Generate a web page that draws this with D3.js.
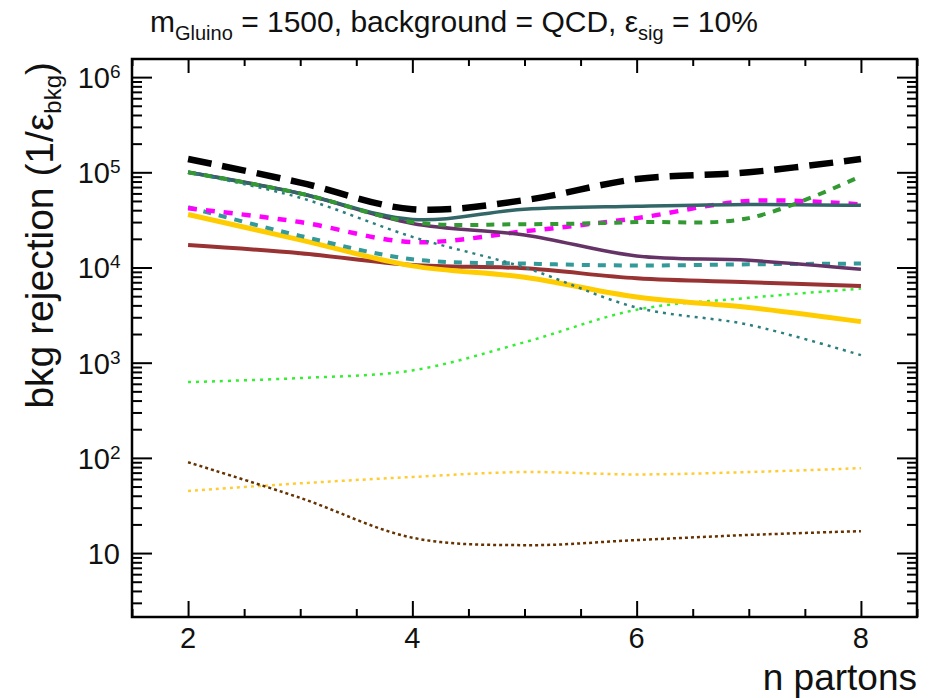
<!DOCTYPE html>
<html>
<head>
<meta charset="utf-8">
<script src="https://cdn.jsdelivr.net/npm/d3@7"></script>
<style>
  body { margin: 0; background: #fff; }
  text { font-family: "Liberation Sans", Arial, sans-serif; fill: #111; }
</style>
</head>
<body>
<div id="chart"></div>
<script>
// x values (number of partons) and axis ticks
const nPartons = [2, 3, 4, 5, 6, 7, 8];
const xMajorTicks = [2, 4, 6, 8];
const yMajorTicks = [10, 1e2, 1e3, 1e4, 1e5, 1e6];

// background rejection per curve
const blackDash   = [1.38e5, 7.8e4, 4.1e4, 5.1e4, 8.5e4, 1.0e5, 1.38e5];
const tealSolid   = [1.0e5, 6.0e4, 3.2e4, 4.1e4, 4.4e4, 4.6e4, 4.5e4];
const purpleSolid = [1.0e5, 6.0e4, 2.9e4, 2.2e4, 1.32e4, 1.19e4, 9.6e3];
const greenDash   = [1.0e5, 6.0e4, 3.0e4, 2.85e4, 3.0e4, 3.3e4, 9.1e4];
const tealDot     = [1.0e5, 5.4e4, 2.1e4, 1.0e4, 3.8e3, 2.5e3, 1.2e3];
const magentaDash = [4.2e4, 3.0e4, 1.85e4, 2.4e4, 3.3e4, 5.0e4, 4.6e4];
const tealDash    = [4.3e4, 2.15e4, 1.22e4, 1.1e4, 1.05e4, 1.08e4, 1.1e4];
const goldSolid   = [3.6e4, 1.95e4, 1.04e4, 7.9e3, 4.9e3, 3.8e3, 2.7e3];
const redSolid    = [1.72e4, 1.41e4, 1.06e4, 9.8e3, 7.7e3, 7.0e3, 6.4e3];
const limeDot     = [625, 690, 830, 1.64e3, 3.6e3, 4.8e3, 6.0e3];
const amberDot    = [45, 54, 63, 71, 67, 71, 78];
const brownDot    = [90, 38, 14.5, 12.1, 13.7, 15.5, 17];

const curves = [
  { values: amberDot,    color: '#ffcc33', width: 2.5, dash: '3,4' },
  { values: brownDot,    color: '#663300', width: 2.5, dash: '3,3' },
  { values: limeDot,     color: '#33ee33', width: 2.5, dash: '3,5' },
  { values: redSolid,    color: '#993333', width: 4,   dash: null },
  { values: goldSolid,   color: '#ffcc00', width: 5,   dash: null },
  { values: tealDash,    color: '#339999', width: 4,   dash: '8,8' },
  { values: magentaDash, color: '#ff00ff', width: 4.5, dash: '9,9' },
  { values: purpleSolid, color: '#663366', width: 3.5, dash: null },
  { values: tealSolid,   color: '#336666', width: 3.5, dash: null },
  { values: tealDot,     color: '#2d7f7f', width: 2.5, dash: '3,5' },
  { values: greenDash,   color: '#339933', width: 4,   dash: '8,8' },
  { values: blackDash,   color: '#000000', width: 6.5, dash: '24,11' }
];

const W = 936, H = 698;
const margin = { left: 132, right: 917, top: 59, bottom: 617 };

const svg = d3.select('#chart').append('svg')
  .attr('width', W).attr('height', H);

const x = d3.scaleLinear().domain([1.5, 8.5]).range([margin.left, margin.right]);
const y = d3.scaleLog().domain([2.13, 1.55e6]).range([margin.bottom, margin.top]);

// minor ticks
const xMinor = d3.range(1.5, 8.51, 0.5).filter(v => v % 2 !== 0);
const yMinor = [];
[1, 10, 1e2, 1e3, 1e4, 1e5, 1e6].forEach(d => {
  for (let k = 2; k <= 9; k++) {
    const v = d * k;
    if (v > 2.13 && v < 1.55e6) yMinor.push(v);
  }
});

function axisGroup(gen, tr) {
  const g = svg.append('g').attr('transform', tr).call(gen);
  g.select('.domain').remove();
  g.selectAll('line').attr('stroke', '#000').attr('stroke-width', 2);
  g.selectAll('text').remove();
  return g;
}

axisGroup(d3.axisBottom(x).tickValues(xMajorTicks).tickSize(-16), `translate(0,${margin.bottom})`);
axisGroup(d3.axisBottom(x).tickValues(xMinor).tickSize(-8), `translate(0,${margin.bottom})`);
axisGroup(d3.axisTop(x).tickValues(xMajorTicks).tickSize(-14), `translate(0,${margin.top})`);
axisGroup(d3.axisTop(x).tickValues(xMinor).tickSize(-7), `translate(0,${margin.top})`);
axisGroup(d3.axisLeft(y).tickValues(yMajorTicks).tickSize(-20), `translate(${margin.left},0)`);
axisGroup(d3.axisLeft(y).tickValues(yMinor).tickSize(-10), `translate(${margin.left},0)`);
axisGroup(d3.axisRight(y).tickValues(yMajorTicks).tickSize(-20), `translate(${margin.right},0)`);
axisGroup(d3.axisRight(y).tickValues(yMinor).tickSize(-10), `translate(${margin.right},0)`);

// frame
svg.append('rect')
  .attr('x', margin.left).attr('y', margin.top)
  .attr('width', margin.right - margin.left).attr('height', margin.bottom - margin.top)
  .attr('fill', 'none').attr('stroke', '#000').attr('stroke-width', 2.5);

// curves
const line = d3.line()
  .curve(d3.curveCatmullRom.alpha(0.5))
  .x((d, i) => x(nPartons[i]))
  .y(d => y(d));

svg.append('clipPath').attr('id', 'clip')
  .append('rect').attr('x', margin.left).attr('y', margin.top)
  .attr('width', margin.right - margin.left).attr('height', margin.bottom - margin.top);

svg.append('g')
  .attr('clip-path', 'url(#clip)')
  .selectAll('path.curve')
  .data(curves)
  .enter()
  .append('path')
  .attr('class', 'curve')
  .attr('d', d => line(d.values))
  .attr('fill', 'none')
  .attr('stroke', d => d.color)
  .attr('stroke-width', d => d.width)
  .attr('stroke-dasharray', d => d.dash);

// x tick labels
svg.selectAll('text.xlab')
  .data(xMajorTicks)
  .enter()
  .append('text')
  .attr('class', 'xlab')
  .attr('x', d => x(d))
  .attr('y', 648)
  .attr('text-anchor', 'middle')
  .attr('font-size', 29)
  .text(d => d);

// y tick labels (10, 10^2, ...)
yMajorTicks.forEach(v => {
  const e = Math.round(Math.log10(v));
  svg.append('text')
    .attr('x', e === 1 ? 120 : 110)
    .attr('y', y(v) + 11)
    .attr('text-anchor', 'end')
    .attr('font-size', 29)
    .text('10');
  if (e !== 1) {
    svg.append('text')
      .attr('x', 110)
      .attr('y', y(v) + 1)
      .attr('font-size', 19)
      .text(e);
  }
});

// axis titles
svg.append('text')
  .attr('x', margin.right)
  .attr('y', 690)
  .attr('text-anchor', 'end')
  .attr('font-size', 37)
  .text('n partons');

const yt = svg.append('text')
  .attr('transform', 'translate(53,62) rotate(-90)')
  .attr('text-anchor', 'end')
  .attr('font-size', 39);
yt.append('tspan').text('bkg rejection (1/ε');
yt.append('tspan').attr('font-size', 24).attr('dy', 8).text('bkg');
yt.append('tspan').attr('dy', -8).text(')');

// title
const title = svg.append('text')
  .attr('x', 150)
  .attr('y', 32)
  .attr('font-size', 30);
title.append('tspan').text('m');
title.append('tspan').attr('font-size', 20).attr('dy', 8).text('Gluino');
title.append('tspan').attr('dy', -8).text(' = 1500, background = QCD, ε');
title.append('tspan').attr('font-size', 20).attr('dy', 8).text('sig');
title.append('tspan').attr('dy', -8).text(' = 10%');
</script>
</body>
</html>
